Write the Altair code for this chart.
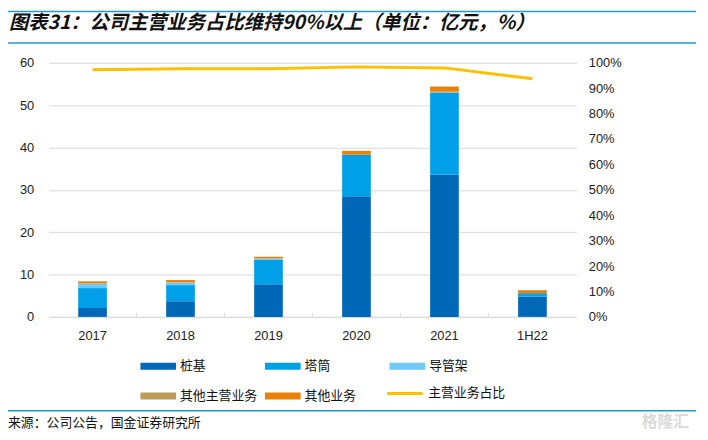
import altair as alt
import pandas as pd

years = ["2017", "2018", "2019", "2020", "2021", "1H22"]
pile = [2.1, 3.7, 7.7, 28.5, 33.6, 4.8]          # 桩基
tower = [4.7, 3.8, 5.8, 9.8, 19.4, 0.8]          # 塔筒
jacket = [1.1, 0.6, 0.3, 0.0, 0.0, 0.0]          # 导管架
other_main = [0.0, 0.1, 0.0, 0.0, 0.2, 0.0]      # 其他主营业务
other_biz = [0.5, 0.5, 0.4, 0.9, 1.2, 0.7]       # 其他业务
main_share = [0.973, 0.977, 0.977, 0.984, 0.980, 0.937]  # 主营业务占比

bar_names = ["桩基", "塔筒", "导管架", "其他主营业务", "其他业务"]
bar_colors = ["#0068B7", "#00A0E9", "#6FC8F6", "#BF9B5B", "#E8800B"]
line_name = "主营业务占比"
line_color = "#FFC000"

title_text = "图表31：公司主营业务占比维持90%以上（单位：亿元，%）"
source_text = "来源：公司公告，国金证券研究所"

bar_series = [pile, tower, jacket, other_main, other_biz]
rows = []
for si, vals in enumerate(bar_series):
    for yi, y in enumerate(years):
        rows.append({"year": y, "series": bar_names[si], "value": vals[yi], "idx": si})
bar_df = pd.DataFrame(rows)
line_df = pd.DataFrame({"year": years, "share": main_share, "series": line_name})
tick_df = pd.DataFrame({"year": years[1:]})

FONT_CN = "Noto Sans CJK SC"
FONT = "Liberation Sans"

bar_legend = alt.Legend(
    title=None, orient="none", legendX=93, legendY=289, columns=3,
    direction="horizontal", symbolType="M-1,-0.2H1V0.2H-1Z", symbolSize=1296,
    symbolStrokeWidth=0, symbolOpacity=1, labelFontSize=13, labelFont=FONT_CN,
    labelColor="#111", labelOffset=4, columnPadding=7, rowPadding=5,
    gridAlign="all", padding=0,
)
line_legend = alt.Legend(
    title=None, orient="none", legendX=341, legendY=315,
    symbolType="stroke", symbolSize=1296, symbolStrokeWidth=3,
    labelFontSize=13, labelFont=FONT_CN, labelColor="#111", labelOffset=4, padding=0,
)

x_enc = alt.X("year:N", sort=years, scale=alt.Scale(paddingInner=0, paddingOuter=0),
              axis=alt.Axis(title=None, labelAngle=0, ticks=False, domainColor="#D9D9D9",
                            labelPadding=13, labelFontSize=13, labelFont=FONT, labelColor="#222"))

bars = alt.Chart(bar_df).mark_bar(size=29).encode(
    x=x_enc,
    y=alt.Y("value:Q", stack="zero", scale=alt.Scale(domain=[0, 60]),
            axis=alt.Axis(title=None, orient="left", values=[0, 10, 20, 30, 40, 50, 60],
                          grid=True, gridColor="#D9D9D9", domain=False, ticks=False,
                          labelPadding=15, labelFontSize=13, labelFont=FONT, labelColor="#222")),
    color=alt.Color("series:N", scale=alt.Scale(domain=bar_names, range=bar_colors),
                    legend=bar_legend),
    order=alt.Order("idx:Q", sort="ascending"),
)

band_ticks = alt.Chart(tick_df).mark_rule(color="#D9D9D9", strokeWidth=1).encode(
    x=alt.X("year:N", sort=years, bandPosition=0),
    y=alt.value(253), y2=alt.value(257),
)

line = alt.Chart(line_df).mark_line(strokeWidth=3).encode(
    x=alt.X("year:N", sort=years),
    y=alt.Y("share:Q", scale=alt.Scale(domain=[0, 1]),
            axis=alt.Axis(title=None, orient="right", format=".0%",
                          values=[0, 0.1, 0.2, 0.3, 0.4, 0.5, 0.6, 0.7, 0.8, 0.9, 1.0],
                          grid=False, domain=False, ticks=False, labelPadding=12,
                          labelFontSize=13, labelFont=FONT, labelColor="#222")),
    stroke=alt.Stroke("series:N", scale=alt.Scale(domain=[line_name], range=[line_color]),
                      legend=line_legend),
)

one = pd.DataFrame({"t": [title_text], "s": [source_text], "w": ["格隆汇"]})

title = alt.Chart(one).mark_text(align="left", baseline="middle", fontSize=19.5,
                                 fontWeight="bold", fontStyle="italic", font=FONT_CN,
                                 color="#111").encode(
    x=alt.value(-40), y=alt.value(-40.5), text="t:N")
source = alt.Chart(one).mark_text(align="left", baseline="middle", fontSize=13,
                                  font=FONT_CN, color="#111").encode(
    x=alt.value(-41), y=alt.value(364), text="s:N")

rule_top = alt.Chart(one).mark_rule(color="#1B9BD8", strokeWidth=1.5).encode(
    x=alt.value(-41), x2=alt.value(655), y=alt.value(-52))
rule_mid = alt.Chart(one).mark_rule(color="#1B9BD8", strokeWidth=1.5).encode(
    x=alt.value(-41), x2=alt.value(655), y=alt.value(-20))
rule_bot = alt.Chart(one).mark_rule(color="#1B9BD8", strokeWidth=1.5).encode(
    x=alt.value(-41), x2=alt.value(655), y=alt.value(352))

watermark = alt.Chart(one).mark_text(align="center", baseline="middle", fontSize=16,
                                     fontWeight="bold", font=FONT_CN, color="#DADADA").encode(
    x=alt.value(624), y=alt.value(363), text="w:N")

chart = alt.layer(bars, band_ticks, line, title, source, rule_top, rule_mid, rule_bot,
                  watermark).resolve_scale(
    y="independent"
).properties(
    width=534, height=257,
    autosize=alt.AutoSizeParams(type="none"),
    padding={"left": 41, "top": 53, "right": 125, "bottom": 114},
).configure_view(stroke=None)

chart.save("out.html", embed_options={"renderer": "svg", "actions": False})
